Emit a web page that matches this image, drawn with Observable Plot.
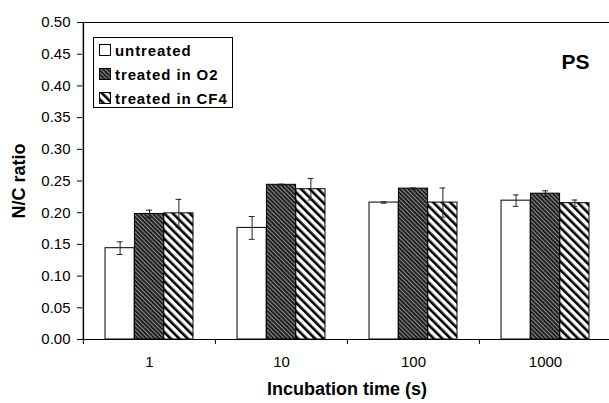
<!DOCTYPE html>
<html>
<head>
<meta charset="utf-8">
<script src="https://cdn.jsdelivr.net/npm/d3@7"></script>
<script src="https://cdn.jsdelivr.net/npm/@observablehq/plot@0.6"></script>
<style>
  html, body { margin: 0; padding: 0; background: #fff; }
  body { font-family: "Liberation Sans", Arial, sans-serif; color: #000; }
  #wrap { position: relative; width: 609px; height: 403px; overflow: hidden; }
  #legend { position: absolute; left: 93px; top: 37px; width: 140px; height: 71px;
            border: 1px solid #000; background: #fff; box-sizing: border-box; }
  .row { position: absolute; left: 5px; height: 20px; display: flex; align-items: center;
         font-weight: bold; font-size: 15px; letter-spacing: 0.9px; white-space: nowrap; }
  .row svg { margin-right: 4px; display: block; }
</style>
</head>
<body>
<div id="wrap"></div>
<script>
// ---- data ----
const categories = ["1", "10", "100", "1000"];
const seriesNames = ["untreated", "treated in O2", "treated in CF4"];
const untreated = [0.144, 0.176, 0.216, 0.219];
const untreatedErr = [0.010, 0.018, 0.001, 0.009];
const treatedO2 = [0.198, 0.244, 0.238, 0.230];
const treatedO2Err = [0.006, 0.001, 0.001, 0.0045];
const treatedCF4 = [0.199, 0.237, 0.216, 0.215];
const treatedCF4Err = [0.022, 0.017, 0.023, 0.005];
const yTicks = [0, 0.05, 0.10, 0.15, 0.20, 0.25, 0.30, 0.35, 0.40, 0.45, 0.50];
const xTitle = "Incubation time (s)";
const yTitle = "N/C ratio";
const panelLabel = "PS";

// ---- layout / style ----
const W = 609, H = 403;
const mL = 82, mR = -2, mT = 22, mB = 64;
const bw = (W - mR - mL) / categories.length;   // band width
const barW = 29.4;
const groupLeft = bw / 2 - 1.5 * barW;
const fills = ["#ffffff", "url(#patO2)", "url(#patCF4)"];
const values = [untreated, treatedO2, treatedCF4];
const errs = [untreatedErr, treatedO2Err, treatedCF4Err];

const rowsBySeries = seriesNames.map((s, k) =>
  categories.map((c, i) => ({cat: c, series: s, value: values[k][i], err: errs[k][i]})));

const marks = [];
rowsBySeries.forEach((rows, k) => {
  const iL = groupLeft + k * barW;
  const iR = bw - iL - barW;
  marks.push(Plot.barY(rows, {x: "cat", y: "value", fill: fills[k], stroke: "#000", strokeWidth: 1,
                              insetLeft: iL, insetRight: iR}));
});
rowsBySeries.forEach((rows, k) => {
  const off = (k - 1) * barW;
  marks.push(Plot.ruleX(rows, {x: "cat", y1: d => d.value - d.err, y2: d => d.value + d.err,
                               dx: off, stroke: "#222", strokeWidth: 1}));
  marks.push(Plot.tickY(rows, {x: "cat", y: d => d.value - d.err, dx: off, stroke: "#222",
                               insetLeft: bw / 2 - 3, insetRight: bw / 2 - 3}));
  marks.push(Plot.tickY(rows, {x: "cat", y: d => d.value + d.err, dx: off, stroke: "#222",
                               insetLeft: bw / 2 - 3, insetRight: bw / 2 - 3}));
});

const plot = Plot.plot({
  width: W, height: H,
  marginLeft: mL, marginRight: mR, marginTop: mT, marginBottom: mB,
  style: {fontFamily: "'Liberation Sans', Arial, sans-serif", background: "#fff", color: "#000", overflow: "visible"},
  x: {domain: categories, padding: 0},
  y: {domain: [0, 0.5]},
  marks: [
    ...marks,
    Plot.ruleY([0.5], {stroke: "#000", strokeWidth: 1}),
    Plot.ruleY([0], {stroke: "#000", strokeWidth: 1}),
    // left axis line and category boundary ticks
    Plot.ruleX([categories[0]], {x: d => d, dx: -bw / 2, y1: 0, y2: 0.5, stroke: "#000", strokeWidth: 1.5}),
    Plot.ruleX(categories, {x: d => d, dx: -bw / 2, insetTop: H - mT - mB, insetBottom: -5, stroke: "#000"}),
    Plot.axisY({ticks: yTicks, tickFormat: d3.format(".2f"), tickSize: 5, tickPadding: 7,
                fontSize: 15, label: null, letterSpacing: 1.2}),
    Plot.axisX({tickSize: 0, tickPadding: 17, fontSize: 15, label: null, letterSpacing: 0.8}),
    Plot.text([xTitle], {frameAnchor: "bottom", textAnchor: "middle", dy: 55, fontWeight: "bold", fontSize: 18, letterSpacing: 0.8}),
    Plot.text([yTitle], {frameAnchor: "left", textAnchor: "middle", dx: -63, rotate: -90, fontWeight: "bold", fontSize: 18, letterSpacing: 0.8}),
    Plot.text([panelLabel], {frameAnchor: "top-right", textAnchor: "middle", dx: -36, dy: 32, fontWeight: "bold", fontSize: 21, letterSpacing: 0.5})
  ]
});

// hatch patterns
const defs = d3.select(plot).insert("defs", ":first-child");
const pO2 = defs.append("pattern").attr("id", "patO2").attr("patternUnits", "userSpaceOnUse")
  .attr("width", 3).attr("height", 3).attr("patternTransform", "rotate(-45)");
pO2.append("rect").attr("width", 3).attr("height", 3).attr("fill", "#1c1c1c");
pO2.append("rect").attr("width", 1.1).attr("height", 3).attr("fill", "#8a8a8a");
const pCF4 = defs.append("pattern").attr("id", "patCF4").attr("patternUnits", "userSpaceOnUse")
  .attr("width", 6).attr("height", 6).attr("patternTransform", "rotate(-45)");
pCF4.append("rect").attr("width", 6).attr("height", 6).attr("fill", "#fff");
pCF4.append("rect").attr("width", 2.6).attr("height", 6).attr("fill", "#000");

const wrap = document.getElementById("wrap");
wrap.appendChild(plot);

// legend inside the plot area
const legend = document.createElement("div");
legend.id = "legend";
seriesNames.forEach((s, k) => {
  const row = document.createElement("div");
  row.className = "row";
  row.style.top = (2 + k * 24) + "px";
  row.innerHTML = `<svg width="12" height="12"><rect x="0.5" y="0.5" width="11" height="11" fill="${fills[k]}" stroke="#000"/></svg><span>${s}</span>`;
  legend.appendChild(row);
});
wrap.appendChild(legend);
</script>
</body>
</html>
